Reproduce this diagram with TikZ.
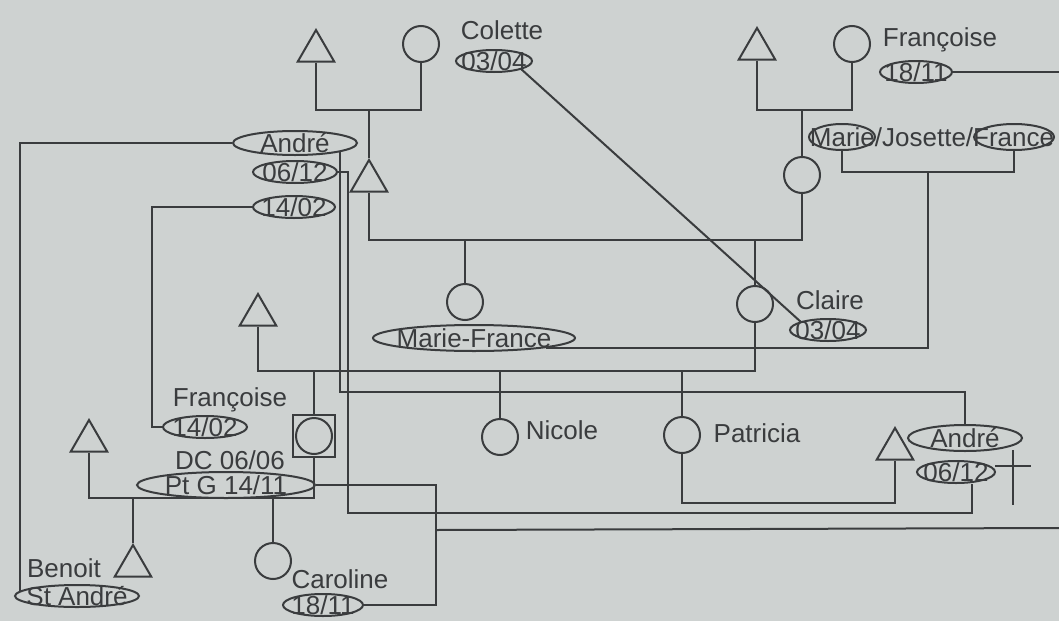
\documentclass[tikz,border=0pt]{standalone}
\usepackage{fontspec}
\setmainfont{Liberation Sans}
\usepackage{tikz}
\usetikzlibrary{shapes.geometric,calc}
\definecolor{paper}{RGB}{206,210,209}
\definecolor{ink}{RGB}{58,60,62}

\begin{document}
\begin{tikzpicture}[x=0.5pt,y=-0.5pt,line width=1pt,color=ink,
  male/.style={regular polygon,regular polygon sides=3,draw,minimum size=21pt,inner sep=0pt},
  female/.style={circle,draw,minimum size=18pt,inner sep=0pt},
  tag/.style={ellipse,draw,inner sep=0pt,minimum height=11pt,minimum width=#1},
  nm/.style={font=\fontsize{13}{15}\selectfont,inner sep=1pt},
  every label/.style={font=\fontsize{13}{15}\selectfont,inner sep=0pt}]
 \fill[paper] (0,0) rectangle (1059,621);
 \useasboundingbox (0,0) rectangle (1059,621);
 % people
 \node[male] (gfL) at (316,51) {};
 \node[female] (gmL) at (421,44) {};
 \node[male] (gfR) at (757,49) {};
 \node[female] (gmR) at (852,44) {};
 \node[male] (dad) at (369,181) {};
 \node[female] (mom) at (802,175) {};
 \node[female] (mf) at (465,302) {};
 \node[female] (claire) at (755,304) {};
 \node[male] (husb) at (258,315) {};
 \node[draw,minimum size=21pt,inner sep=0pt] (pb) at (314,436) {};
 \node[female] (pbc) at (314,436) {};
 \node[female] (nicole) at (500,437) {};
 \node[female] (patricia) at (682,435) {};
 \node[male] (andre) at (895,449) {};
 \node[male] (husb2) at (89,441) {};
 \node[male] (benoit) at (133,566) {};
 \node[female] (caroline) at (273,561) {};
 % names and dates
 \node[nm] (coletteT) at (502,30) {Colette};
 \node[tag=38pt,label=center:03/04] (d0304a) at (494,61) {};
 \node[nm] (francoiseT) at (940,40) {Françoise};
 \node[tag=36pt,label=center:18/11] (d1811a) at (916,72) {};
 \node[nm] (mjf) at (932,137) {Marie/Josette/France};
 \node[tag=33pt,minimum height=13pt] (emarie) at (842,137) {};
 \node[tag=40pt,minimum height=13pt] (efrance) at (1014,137) {};
 \node[tag=101pt,minimum height=13pt,label=center:Marie-France] (emf) at (474,338) {};
 \node[nm] (claireT) at (830,300) {Claire};
 \node[tag=38pt,label=center:03/04] (d0304b) at (828,330) {};
 \node[nm] (nicoleT) at (562,430) {Nicole};
 \node[nm] (patriciaT) at (757,433) {Patricia};
 \node[tag=57pt,minimum height=13pt,label=center:André] (eandreR) at (965,438) {};
 \node[tag=39pt,label=center:06/12] (d0612b) at (956,472) {};
 \node[tag=62pt,minimum height=12pt,label=center:André] (eandreL) at (295,143) {};
 \node[tag=42pt,label=center:06/12] (d0612a) at (295,172) {};
 \node[tag=41pt,label=center:14/02] (d1402a) at (294,207) {};
 \node[nm] (francoise2T) at (230,400) {Françoise};
 \node[tag=42pt,label=center:14/02] (d1402b) at (205,427) {};
 \node[nm] (dcT) at (230,460) {DC 06/06};
 \node[tag=89pt,minimum height=13pt,label=center:Pt G 14/11] (eptg) at (226,485) {};
 \node[nm] (benoitT) at (64,568) {Benoit};
 \node[tag=62pt,label=center:St André] (estandre) at (77,596) {};
 \node[nm] (carolineT) at (340,579) {Caroline};
 \node[tag=40pt,label=center:18/11] (d1811b) at (323,605) {};
 % couples and children
 \coordinate (m1) at (369,110);
 \draw (gfL.south) |- (m1) -| (gmL.south);
 \draw (m1) -- (dad.north);
 \coordinate (m2) at (802,110);
 \draw (gfR.south) |- (m2) -| (gmR.south);
 \draw (m2) -- (mom.north);
 \coordinate (m3) at (600,240);
 \draw (dad.south) |- (m3) -| (mom.south);
 \foreach \k in {mf,claire} \draw (\k.north) -- (\k.north |- m3);
 \coordinate (m4) at (500,371);
 \draw (husb.south) |- (m4) -| (claire.south);
 \foreach \k in {pb,nicole,patricia} \draw (\k.north) -- (\k.north |- m4);
 \coordinate (m5) at (200,498);
 \draw (pb.south) |- (m5) -| (husb2.south);
 \foreach \k in {benoit,caroline} \draw (\k.north) -- (\k.north |- m5);
 \coordinate (m6) at (800,503);
 \draw (patricia.south) |- (m6) -| (andre.south);
 % name and date links
 \coordinate (edgeT) at (1059,72);
 \coordinate (edgeB) at (1059,528);
 \draw (eandreL.west) -| (estandre.175);
 \draw (d1402a.west) -- ++(-100,0) |- (d1402b.west);
 \coordinate (l1) at (600,392);
 \draw (eandreL.south east) |- (l1) -| (eandreR.north);
 \coordinate (l2) at (348,513);
 \draw (d0612a.east) -| (l2) -| ([xshift=8pt]d0612b.south);
 \coordinate (l3) at (436,530);
 \draw (eptg.east) -| (l3) |- (d1811b.east);
 \draw (l3) -- (edgeB);
 \draw (d1811a.east) -- (edgeT);
 \coordinate (l4) at (928,172);
 \draw (emarie.south) |- (l4) -| (efrance.south);
 \draw (l4) |- (emf.south east);
 \draw (d0304a.south east) -- (d0304b.north west);
 % cross
 \draw (995,466) -- (1031,466) (1013,450) -- (1013,505);
\end{tikzpicture}
\end{document}
